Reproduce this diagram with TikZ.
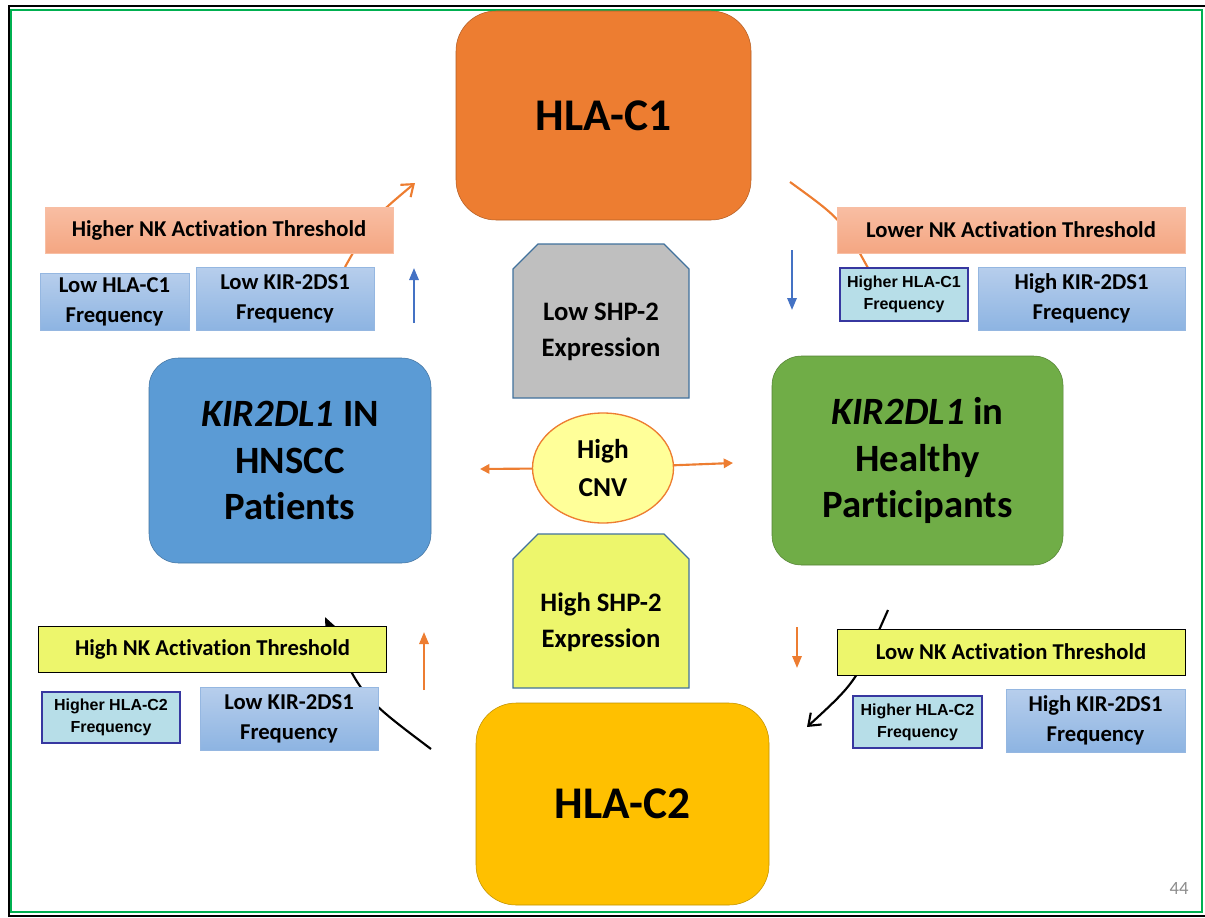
\documentclass[tikz,border=0pt]{standalone}
\usepackage{fontspec}
\setmainfont{Carlito}[Ligatures=NoCommon]
\newfontfamily\arialfont{Liberation Sans}
\usetikzlibrary{shapes.geometric, arrows.meta}

\definecolor{hlaorange}{RGB}{237,125,49}
\definecolor{hlagold}{RGB}{255,192,0}
\definecolor{kirblue}{RGB}{91,155,213}
\definecolor{kirgreen}{RGB}{112,173,71}
\definecolor{shpgray}{RGB}{191,191,191}
\definecolor{shpyellow}{RGB}{237,246,108}
\definecolor{shpedge}{RGB}{65,113,156}
\definecolor{cnvyellow}{RGB}{255,255,153}
\definecolor{salmontop}{RGB}{248,190,163}
\definecolor{salmonbot}{RGB}{244,166,130}
\definecolor{freqtop}{RGB}{183,206,236}
\definecolor{freqbot}{RGB}{141,180,226}
\definecolor{freqedge}{RGB}{149,183,225}
\definecolor{hlacyan}{RGB}{183,222,232}
\definecolor{hlaedge}{RGB}{55,55,160}
\definecolor{arrowblue}{RGB}{68,114,196}
\definecolor{framegreen}{RGB}{0,176,80}

\begin{document}
\begin{tikzpicture}[x=0.75pt, y=-0.75pt,
  hlabox/.style={rectangle, rounded corners=30pt, draw=#1!75!black, fill=#1, text centered, font=\bfseries\fontsize{34}{40}\selectfont},
  kirbox/.style={rectangle, rounded corners=22pt, draw=#1!75!black, fill=#1, text centered, align=center, font=\bfseries\fontsize{29}{35}\selectfont},
  shptext/.style={rectangle, align=center, font=\bfseries\fontsize{20}{27}\selectfont},
  shpshape/.style={draw=shpedge, line width=1pt},
  cnvnode/.style={ellipse, draw=hlaorange, line width=1pt, fill=cnvyellow, minimum width=105.75pt, minimum height=82.5pt, inner sep=0pt, align=center, font=\bfseries\fontsize{20.5}{28.5}\selectfont},
  thresh/.style={rectangle, minimum width=261pt, minimum height=34.5pt, inner sep=0pt, font=\bfseries\fontsize{17}{20}\selectfont},
  salmon/.style={thresh, draw=salmontop, top color=salmontop, bottom color=salmonbot},
  yellowbar/.style={thresh, draw=black, line width=0.6pt, fill=shpyellow},
  freq/.style={rectangle, draw=freqedge, line width=0.6pt, top color=freqtop, bottom color=freqbot, inner sep=0pt, minimum height=47.25pt, align=center, font=\bfseries\fontsize{17}{22.5}\selectfont},
  hlafreq/.style={rectangle, draw=hlaedge, line width=1pt, fill=hlacyan, inner sep=0pt, align=center, font=\arialfont\bfseries\fontsize{12}{16.5}\selectfont},
  arrow/.style={line width=1.6pt, -{Triangle[length=9pt, width=7pt]}},
  curve/.style={line width=1.6pt},
  cnvarrow/.style={line width=1.6pt, hlaorange, -{Triangle[length=7pt, width=7pt]}}
]
\useasboundingbox (0,0) rectangle (1205,917);

\draw[black, line width=1.6pt] (9,917) -- (9,6) -- (1205,6);
\draw[black, line width=1.6pt] (9,916) -- (1205,916);
\draw[framegreen, line width=1.6pt] (11,10) rectangle (1202,912);

\coordinate (ocvS) at (345,267);
\coordinate (ocvE) at (415,183);
\coordinate (ocrS) at (790,182);
\coordinate (ocrE) at (868,268);
\coordinate (kcvS) at (431,749);
\coordinate (kcvE) at (325,617);
\coordinate (kcrS) at (888,610);
\coordinate (kcrE) at (807,727);

\draw [curve, hlaorange, -{Straight Barb[length=8pt, width=12pt]}] (ocvS) .. controls (372,219) .. (ocvE);
\draw [curve, hlaorange] (ocrS) .. controls (841,219) .. (ocrE);
\draw [curve, black, -{Triangle[length=10pt, width=8pt]}] (kcvS) .. controls (362,697) .. (kcvE);
\draw [curve, black, -{Straight Barb[length=8pt, width=12pt]}] (kcrS) .. controls (856,682) .. (kcrE);

\node (hlac1) [hlabox=hlaorange, minimum width=221.25pt, minimum height=156.75pt] at (603.5,115.5) {HLA-C1};
\node (hlac2) [hlabox=hlagold, minimum width=219.75pt, minimum height=151.5pt] at (622.5,804) {HLA-C2};
\node (hnscc) [kirbox=kirblue, minimum width=211.5pt, minimum height=153.75pt] at (290,460.5) {\textit{KIR2DL1} IN\\HNSCC\\Patients};
\node (healthy) [kirbox=kirgreen, minimum width=218.25pt, minimum height=156.75pt] at (917.5,460.5) {\textit{KIR2DL1} in\\Healthy\\Participants};

\draw [shpshape, fill=shpgray] (513,398) -- (513,269) -- (538,244) -- (664,244) -- (689,269) -- (689,398) -- cycle;
\node (lowshp) [shptext] at (601,332) {Low SHP-2\\Expression};
\draw [shpshape, fill=shpyellow] (513,688) -- (513,559) -- (538,534) -- (664,534) -- (689,559) -- (689,688) -- cycle;
\node (highshp) [shptext] at (601,622) {High SHP-2\\Expression};

\node (cnv) [cnvnode] at (603,468) {High\\CNV};
\coordinate (cnvL) at (480,469);
\coordinate (cnvR) at (733,463);
\draw [cnvarrow] (cnv) -- (cnvL);
\draw [cnvarrow] (cnv) -- (cnvR);

\node (higherc1) [salmon] at (219,230) {Higher NK Activation Threshold};
\node (lowhla1) [freq, minimum width=111.75pt, minimum height=42.75pt] at (114.5,301.5) {Low HLA-C1\\Frequency};
\node (lowkir1) [freq, minimum width=133.5pt] at (285,298.5) {Low KIR-2DS1\\Frequency};
\node (lowerc1) [salmon] at (1011,230) {Lower NK Activation Threshold};
\node (hihla1) [hlafreq, minimum width=96pt, minimum height=39.75pt] at (904,294.5) {Higher HLA-C1\\Frequency};
\node (hikir1) [freq, minimum width=155.25pt] at (1081.5,298.5) {High KIR-2DS1\\Frequency};

\node (highc2) [yellowbar] at (212.5,649.5) {High NK Activation Threshold};
\node (hihla2l) [hlafreq, minimum width=103.5pt, minimum height=38.25pt] at (111,717.5) {Higher HLA-C2\\Frequency};
\node (lowkir2) [freq, minimum width=133.5pt] at (289,718.5) {Low KIR-2DS1\\Frequency};
\node (lowc2) [yellowbar] at (1011,652) {Low NK Activation Threshold};
\node (hihla2r) [hlafreq, minimum width=96.75pt, minimum height=39pt] at (917.5,722) {Higher HLA-C2\\Frequency};
\node (hikir2) [freq, minimum width=134.25pt] at (1095.5,720.5) {High KIR-2DS1\\Frequency};

\coordinate (bupS) at (414,323);
\coordinate (bupE) at (414,268);
\coordinate (bdnS) at (792,250);
\coordinate (bdnE) at (792,310);
\coordinate (oupS) at (424,690);
\coordinate (oupE) at (424,632);
\coordinate (odnS) at (797,627);
\coordinate (odnE) at (797,668);
\draw [arrow, arrowblue] (bupS) -- (bupE);
\draw [arrow, arrowblue] (bdnS) -- (bdnE);
\draw [arrow, hlaorange] (oupS) -- (oupE);
\draw [arrow, hlaorange] (odnS) -- (odnE);

\node (page) [text=black!45, font=\fontsize{14}{16}\selectfont] at (1179,888) {44};

\end{tikzpicture}
\end{document}
